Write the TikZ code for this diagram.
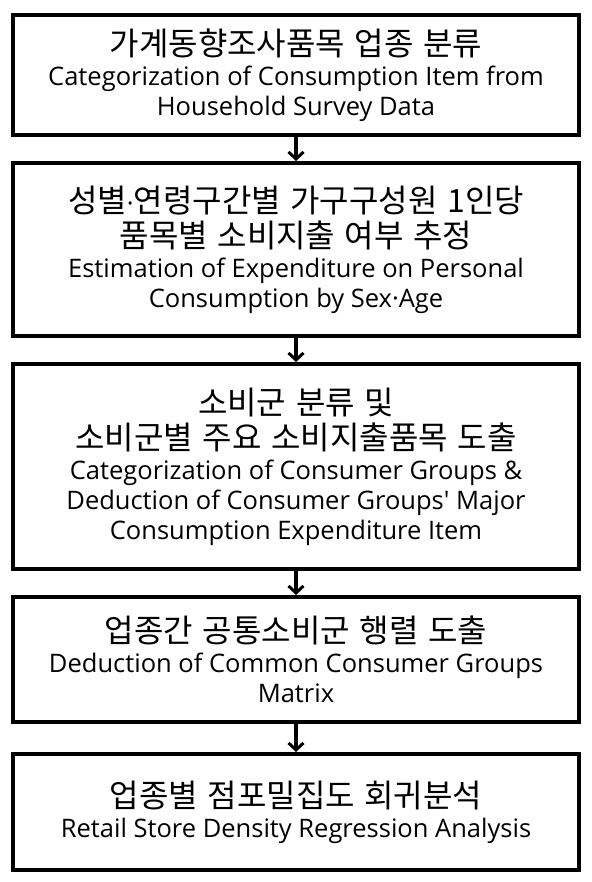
\documentclass[tikz,border=0pt]{standalone}
\usepackage{fontspec}
\newfontfamily\enfont{Open Sans}
\newfontfamily\kofont{Noto Sans CJK KR}
\usetikzlibrary{arrows.meta}
\newcommand{\ko}{\kofont\fontsize{32}{35}\selectfont\spaceskip=0.3em\relax}
\newcommand{\en}{\enfont\fontsize{25.5}{30}\selectfont}
\newcommand{\mdot}{{\enfont\fontsize{25.5}{30}\selectfont ·}}
\tikzset{
  stepbox/.style={draw=black, line width=4pt, minimum width=566pt, inner sep=0pt, outer sep=0pt, align=center, font=\enfont\fontsize{25.5}{30}\selectfont},
  flowarrow/.style={line width=3.5pt, -{Straight Barb[length=7pt,width=15pt,line width=3pt]}, shorten >=2pt, shorten <=2pt}
}
\begin{document}
\begin{tikzpicture}[x=1pt,y=1pt]
\useasboundingbox (0,0) rectangle (591,-882);
\node[stepbox, minimum height=120pt] (b1) at (296,-75)
  {\ko 가계동향조사품목 업종 분류\\
   \en Categorization of Consumption Item from\\
   \en Household Survey Data};
\node[stepbox, minimum height=173pt] (b2) at (296,-249.5)
  {\ko 성별\mdot 연령구간별 가구구성원 1인당\\[5pt]
   \ko 품목별 소비지출 여부 추정\\
   \en Estimation of Expenditure on Personal\\
   \en Consumption by Sex·Age};
\node[stepbox, minimum height=205pt] (b3) at (296,-466.5)
  {\ko 소비군 분류 및\\[5pt]
   \ko 소비군별 주요 소비지출품목 도출\\
   \en Categorization of Consumer Groups \&\\
   \en Deduction of Consumer Groups' Major\\
   \en Consumption Expenditure Item};
\node[stepbox, minimum height=125pt] (b4) at (296,-659.5)
  {\ko 업종간 공통소비군 행렬 도출\\
   \en Deduction of Common Consumer Groups\\
   \en Matrix};
\node[stepbox, minimum height=116pt] (b5) at (296,-812)
  {\ko 업종별 점포밀집도 회귀분석\\
   \en Retail Store Density Regression Analysis};
\draw[flowarrow] (b1.south) -- (b2.north);
\draw[flowarrow] (b2.south) -- (b3.north);
\draw[flowarrow] (b3.south) -- (b4.north);
\draw[flowarrow] (b4.south) -- (b5.north);
\end{tikzpicture}
\end{document}
